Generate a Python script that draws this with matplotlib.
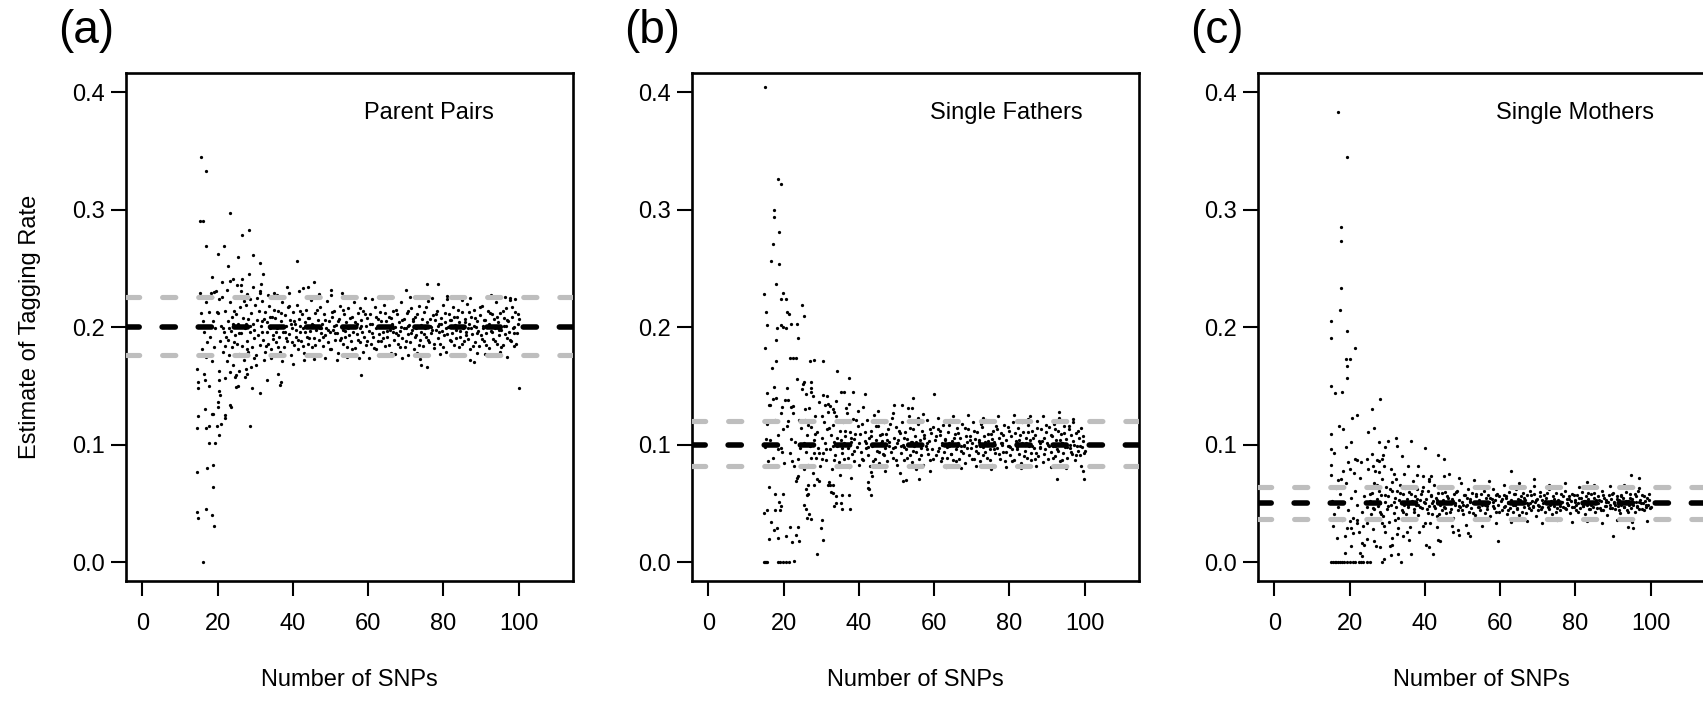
import matplotlib
matplotlib.use("Agg")
import matplotlib.pyplot as plt

plt.rcParams['font.family'] = ['Liberation Sans', 'DejaVu Sans']
plt.rcParams['lines.scale_dashes'] = False

# ---------------- data (x = number of SNPs, y = estimated tagging rate) ----------------
panel_letters = ["(a)", "(b)", "(c)"]
panel_names = ["Parent Pairs", "Single Fathers", "Single Mothers"]
true_rate = [0.2, 0.1, 0.05]
upper_ci = [0.2255, 0.1199, 0.0642]
lower_ci = [0.1763, 0.0819, 0.0366]
x_ticks = [0, 20, 40, 60, 80, 100]
y_ticks = [0.0, 0.1, 0.2, 0.3, 0.4]
y_tick_labels = ["0.0", "0.1", "0.2", "0.3", "0.4"]

a_outliers = [(15.5,.345),(16.8,.333),(15.3,.290),(16.0,.290),(23.4,.297),(16.9,.269),(21.6,.269),(20.1,.262),
    (26.4,.278),(28.3,.283),(25.4,.260),(29.4,.261),(31.3,.255),(41.2,.256),(22.7,.252),(18.5,.243),(23.2,.239),
    (26.3,.236),(28.3,.245),(32.1,.245),(31.6,.237),(19.0,.230),(18.2,.229),(38.4,.234),(42.8,.233),(45.6,.238),
    (50.1,.232),(31.4,.229),(28.5,.116),(14.5,.164),(14.8,.153),(14.9,.148),(16.5,.160),(16.7,.155),(17.8,.150),
    (20.4,.155),(20.5,.146),(20.6,.142),(20.2,.136),(20.0,.132),(18.5,.126),(18.7,.126),(16.6,.130),(14.8,.124),
    (14.6,.114),(16.8,.114),(17.8,.116),(19.8,.116),(20.9,.118),(20.5,.108),(17.8,.101),(19.4,.101),(23.2,.134),
    (23.5,.132),(21.9,.125),(22.1,.123),(25.0,.149),(25.4,.150),(24.8,.159),(27.5,.164),(27.9,.160),(29.2,.148),
    (31.2,.144),(33.2,.155),(36.0,.160),(36.6,.151),(14.6,.077),(17.3,.080),(18.8,.083),(18.9,.064),(14.6,.043),
    (14.8,.038),(17.0,.045),(18.5,.040),(19.0,.031),(16.0,.000),(100.0,.148),(58.2,.159),(36.8,.153),(75.5,.237),
    (78.5,.237),(70.0,.2315),(81.0,.2264),(96.4,.226),(97.8,.225),(92.5,.227),(74.0,.168),(75.5,.166),(88.2,.170),
    (70.7,.176),(60.2,.174),(73.8,.173),(87.0,.172)]
a_band_early = [(15.3,.229),(15.6,.212),(16.1,.205),(16.4,.196),(16.9,.221),(17.3,.187),(17.6,.213),(18.0,.192),
    (18.4,.226),(18.8,.205),(19.1,.183),(19.4,.199),(19.7,.231),(15.9,.181),(17.0,.175),(18.6,.171),(19.9,.213),
    (20.2,.212),(20.6,.188),(20.9,.201),(21.3,.226),(21.5,.179),(21.8,.196),(22.1,.214),(22.4,.171),(22.7,.205),
    (22.9,.189),(23.2,.221),(23.5,.197),(23.7,.183),(23.9,.209),(24.2,.168),(24.4,.214),(24.7,.193),(24.9,.226),
    (25.2,.186),(25.4,.203),(25.6,.177),(25.9,.217),(26.1,.195),(26.3,.231),(26.6,.184),(26.8,.208),(27.0,.172),
    (27.3,.199),(27.5,.219),(27.8,.188),(28.0,.207),(28.2,.179),(28.5,.224),(28.7,.196),(29.0,.212),(29.2,.183),
    (29.5,.203),(29.7,.191),(30.0,.219),(30.2,.176),(30.5,.206),(30.7,.193),(31.0,.214),(31.2,.185),(31.5,.201),
    (31.7,.222),(32.0,.189),(32.2,.207),(32.5,.179),(32.7,.213),(33.0,.196),(33.2,.204),(33.5,.186),(33.7,.218),
    (34.0,.199),(34.2,.181),(34.5,.209),(34.7,.193),(35.0,.215),(20.4,.163),(21.1,.238),(22.0,.157),(22.6,.232),
    (23.4,.162),(24.0,.241),(24.6,.158),(25.1,.236),(25.8,.163),(26.5,.241),(27.2,.158),(27.9,.228),(28.9,.166),
    (29.4,.234),(30.3,.168),(31.4,.231),(32.3,.172),(33.4,.227),(34.3,.174),(34.9,.229),(21.9,.184),(23.0,.199),
    (24.1,.203),(26.0,.201),(27.6,.203),(29.8,.198),(31.9,.205),(33.9,.201),
    (20.5,.224),(21.4,.199),(22.3,.192),(23.1,.176),(24.3,.187),(25.0,.211),(25.7,.195),(26.9,.222),(27.7,.181),
    (28.6,.201),(29.6,.174),(30.6,.225),(31.8,.196),(32.9,.184),(33.8,.209),(34.6,.190)]
a_band_mid = [(35.2,.208),(35.5,.187),(35.8,.199),(36.1,.214),(36.3,.192),(36.6,.179),(36.9,.205),(37.1,.221),
    (37.4,.196),(37.7,.183),(37.9,.210),(38.2,.201),(38.5,.188),(38.7,.217),(39.0,.194),(39.3,.206),(39.5,.176),
    (39.8,.199),(40.1,.213),(40.3,.185),(40.6,.203),(40.9,.192),(41.1,.219),(41.4,.181),(41.7,.207),(41.9,.196),
    (42.2,.188),(42.5,.211),(42.7,.199),(43.0,.178),(43.3,.204),(43.5,.215),(43.8,.192),(44.1,.186),(44.3,.208),
    (44.6,.197),(44.9,.223),(45.1,.183),(45.4,.202),(45.7,.191),(45.9,.212),(46.2,.198),(46.5,.176),(46.7,.206),
    (47.0,.189),(47.3,.217),(47.5,.195),(47.8,.203),(48.1,.184),(48.3,.211),(48.6,.193),(48.9,.199),(49.1,.222),
    (49.4,.187),(49.7,.205),(49.9,.196),(50.2,.181),(50.5,.209),(50.7,.198),(51.0,.214),(51.3,.189),(51.5,.202),
    (51.8,.195),(52.1,.178),(52.3,.207),(52.6,.218),(52.9,.191),(53.1,.200),(53.4,.186),(53.7,.211),(53.9,.197),
    (54.2,.204),(54.5,.183),(54.7,.216),(55.0,.193),(55.3,.201),(55.5,.188),(55.8,.209),(56.1,.196),(56.3,.221),
    (56.6,.182),(56.9,.203),(57.1,.194),(57.4,.212),(57.7,.187),(57.9,.199),(58.2,.206),(58.5,.179),(58.7,.214),
    (59.0,.192),(59.3,.201),(59.5,.185),(59.8,.208),(35.9,.227),(37.2,.171),(38.9,.229),(40.0,.169),(41.5,.231),
    (42.9,.172),(44.0,.234),(45.5,.173),(46.9,.228),(48.4,.174),(50.0,.227),(51.6,.172),(53.0,.229),(54.4,.175),
    (56.0,.226),(57.5,.174),(59.1,.225),(36.4,.201),(38.0,.196),(39.6,.203),(42.0,.201),(44.7,.200),(47.6,.199),
    (50.9,.201),(53.3,.198),(55.9,.200),(58.0,.201),
    (35.4,.196),(36.0,.183),(36.8,.212),(37.5,.201),(38.3,.191),(39.1,.218),(39.9,.187),(40.4,.205),(40.8,.198),
    (41.3,.189),(42.0,.214),(42.6,.184),(43.2,.196),(43.9,.208),(44.4,.191),(45.0,.203),(45.8,.185),(46.4,.215),
    (47.1,.199),(47.9,.192),(48.5,.206),(49.2,.198),(49.8,.181),(50.4,.213),(51.1,.195),(51.9,.205),(52.5,.189),
    (53.2,.215),(53.8,.192),(54.6,.199),(55.2,.208),(55.7,.181),(56.4,.204),(57.2,.189),(57.8,.216),(58.4,.196),
    (59.2,.211),(59.7,.188)]
a_band_late = [(60.2,.197),(60.5,.211),(60.8,.186),(61.1,.203),(61.4,.192),(61.7,.217),(62.0,.199),(62.2,.181),
    (62.5,.207),(62.8,.194),(63.1,.213),(63.4,.188),(63.7,.201),(64.0,.196),(64.2,.219),(64.5,.184),(64.8,.205),
    (65.1,.192),(65.4,.209),(65.7,.198),(66.0,.178),(66.2,.203),(66.5,.214),(66.8,.189),(67.1,.200),(67.4,.195),
    (67.7,.211),(68.0,.186),(68.2,.204),(68.5,.197),(68.8,.221),(69.1,.191),(69.4,.207),(69.7,.183),(70.0,.199),
    (70.2,.212),(70.5,.194),(70.8,.202),(71.1,.187),(71.4,.216),(71.7,.198),(72.0,.205),(72.2,.181),(72.5,.209),
    (72.8,.193),(73.1,.201),(73.4,.218),(73.7,.189),(74.0,.196),(74.2,.207),(74.5,.184),(74.8,.213),(75.1,.199),
    (75.4,.192),(75.7,.204),(76.0,.222),(76.2,.187),(76.5,.201),(76.8,.195),(77.1,.210),(77.4,.182),(77.7,.206),
    (78.0,.198),(78.2,.214),(78.5,.191),(78.8,.203),(79.1,.186),(79.4,.208),(79.7,.197),(80.0,.219),(80.2,.193),
    (80.5,.204),(80.8,.179),(81.1,.200),(81.4,.211),(81.7,.189),(82.0,.206),(82.2,.195),(82.5,.217),(82.8,.185),
    (83.1,.202),(83.4,.198),(83.7,.209),(84.0,.183),(84.2,.204),(84.5,.192),(84.8,.213),(85.1,.199),(85.4,.188),
    (85.7,.207),(86.0,.196),(86.2,.220),(86.5,.190),(86.8,.203),(87.1,.181),(87.4,.209),(87.7,.194),(88.0,.201),
    (88.2,.215),(88.5,.187),(88.8,.205),(89.1,.197),(89.4,.184),(89.7,.210),(90.0,.193),(90.2,.218),(90.5,.199),
    (90.8,.188),(91.1,.206),(91.4,.195),(91.7,.214),(92.0,.182),(92.2,.203),(92.5,.197),(92.8,.211),(93.1,.190),
    (93.4,.207),(93.7,.199),(94.0,.221),(94.2,.186),(94.5,.204),(94.8,.193),(95.1,.212),(95.4,.198),(95.7,.185),
    (96.0,.208),(96.2,.201),(96.5,.216),(96.8,.191),(97.1,.205),(97.4,.196),(97.7,.223),(98.0,.188),(98.2,.209),
    (98.5,.199),(98.8,.184),(99.1,.213),(99.4,.195),(99.7,.203),(100.0,.207),(61.0,.224),(63.0,.176),(65.0,.225),
    (67.0,.177),(69.0,.174),(71.0,.226),(73.0,.178),(75.0,.176),(77.0,.225),(79.0,.177),(81.0,.224),(83.0,.176),
    (85.0,.223),(87.0,.225),(89.0,.178),(91.0,.177),(93.0,.226),(95.0,.179),(97.0,.175),(99.0,.224),(62.6,.200),
    (64.6,.201),(66.6,.199),(68.6,.200),(70.6,.201),(72.6,.199),(74.6,.200),(76.6,.200),(78.6,.201),(80.6,.199),
    (82.6,.200),(84.6,.201),(86.6,.199),(88.6,.200),(90.6,.201),(92.6,.200),(94.6,.199),(96.6,.201),(98.6,.200),
    (60.4,.203),(60.9,.195),(61.5,.182),(62.1,.209),(62.7,.188),(63.3,.205),(63.9,.191),(64.4,.212),(65.0,.197),
    (65.6,.185),(66.1,.208),(66.7,.196),(67.3,.215),(67.9,.193),(68.4,.183),(69.0,.206),(69.6,.199),(70.1,.188),
    (70.7,.214),(71.3,.195),(71.9,.207),(72.4,.192),(73.0,.211),(73.6,.185),(74.1,.202),(74.7,.194),(75.3,.217),
    (75.9,.189),(76.4,.207),(77.0,.198),(77.6,.186),(78.1,.211),(78.7,.196),(79.3,.203),(79.9,.183),(80.4,.212),
    (81.0,.194),(81.6,.206),(82.1,.188),(82.7,.209),(83.3,.191),(83.9,.215),(84.4,.197),(85.0,.186),(85.6,.204),
    (86.1,.193),(86.7,.213),(87.3,.199),(87.9,.184),(88.4,.208),(89.0,.195),(89.6,.217),(90.1,.190),(90.7,.206),
    (91.3,.185),(91.9,.201),(92.4,.212),(93.0,.196),(93.6,.188),(94.1,.209),(94.7,.198),(95.3,.183),(95.9,.214),
    (96.4,.194),(97.0,.206),(97.6,.189),(98.1,.217),(98.7,.195),(99.3,.186),(99.8,.211)]

b_outliers = [(15.0,.404),(18.6,.326),(19.3,.322),(17.4,.300),(17.4,.2935),(18.9,.281),(17.2,.271),(16.6,.256),
    (18.9,.254),(17.9,.237),(14.8,.228),(19.8,.229),(19.4,.224),(20.7,.224),(15.4,.213),(21.0,.213),(21.4,.211),
    (24.9,.2185),(25.4,.2095),(15.7,.202),(19.4,.202),(19.8,.200),(18.3,.199),(20.7,.199),(22.0,.203),(23.5,.203),
    (23.9,.191),(17.9,.189),(15.0,.182),(21.7,.174),(22.5,.174),(23.2,.174),(27.1,.171),(28.0,.172),(30.6,.171),
    (17.9,.171),(16.9,.165),(34.3,.163),(37.3,.157),(17.4,.149),(15.7,.144),(16.2,.134),(16.5,.134),(17.2,.139),
    (20.3,.138),(21.2,.138),(19.6,.132),(22.0,.132),(22.5,.133),(25.1,.152),(25.4,.153),(24.9,.147),(27.2,.153),
    (27.3,.148),(27.2,.145),(26.0,.143),(30.6,.142),(31.5,.141),(35.2,.145),(36.0,.145),(38.4,.145),(41.5,.143),
    (31.9,.135),(32.2,.133),(33.5,.128),(33.2,.130),(37.5,.135),(49.4,.134),(51.4,.134),(54.0,.131),(21.2,.120),
    (19.4,.127),(25.8,.130),(24.2,.121),(15.4,.105),(15.0,.098),(19.8,.113),(22.0,.105),(18.5,.096),(19.6,.094),
    (22.3,.086),(16.1,.064),(17.6,.058),(19.8,.058),(18.9,.051),(23.3,.069),(23.6,.072),(23.9,.073),(26.4,.066),
    (28.2,.066),(26.6,.058),(26.1,.057),(29.4,.069),(31.8,.066),(32.3,.066),(33.0,.066),(32.7,.060),(34.0,.056),
    (35.5,.057),(37.5,.057),(42.4,.068),(42.6,.062),(43.6,.0735),(14.9,.042),(15.6,.044),(16.7,.034),(17.7,.044),
    (19.2,.048),(19.0,.044),(16.0,.020),(17.4,.027),(18.2,.029),(18.4,.021),(20.6,.022),(21.7,.030),(22.3,.017),
    (23.2,.023),(23.8,.030),(24.0,.018),(14.8,0.0),(15.0,0.0),(15.3,0.0),(15.6,0.0),(18.4,0.0),(19.1,0.0),
    (19.9,0.0),(20.6,0.0),(21.5,0.0),(22.7,.001),(29.0,.007),(30.5,.019),(30.0,.029),(30.3,.036),(26.2,.038),
    (26.8,.041),(27.2,.037),(25.5,.049),(25.9,.045),(33.2,.0585),(33.4,.048),(34.0,.050),(35.2,.050),(35.4,.045),
    (37.7,.045),(42.5,.063),(43.3,.057),(60.0,.143),(54.5,.140),(85.4,.124),(93.1,.128),(92.6,.071),(99.8,.071),
    (99.5,.078),(51.8,.069),(52.5,.070),(56.1,.0705)]
b_band_early = [(15.5,.118),(16.4,.104),(17.1,.089),(17.8,.121),(18.6,.108),(19.3,.097),(20.1,.084),(20.8,.116),
    (21.6,.093),(22.4,.127),(23.1,.102),(23.8,.088),(24.6,.114),(25.3,.079),(15.9,.086),(18.1,.140),(21.0,.148),
    (23.5,.156),(24.3,.097),(22.8,.082),(25.6,.121),(25.9,.094),(26.2,.108),(26.5,.083),(26.8,.131),(27.1,.099),
    (27.4,.115),(27.7,.076),(28.0,.104),(28.3,.124),(28.6,.089),(28.9,.111),(29.2,.097),(29.5,.136),(29.8,.082),
    (30.1,.106),(30.4,.093),(30.7,.119),(31.0,.101),(31.3,.087),(31.6,.113),(31.9,.128),(32.2,.096),(32.5,.108),
    (32.8,.079),(33.1,.117),(33.4,.102),(33.7,.091),(34.0,.124),(34.3,.099),(34.6,.085),(34.9,.112),(35.2,.104),
    (35.5,.093),(35.8,.119),(36.1,.088),(36.4,.107),(36.7,.131),(37.0,.097),(37.3,.081),(37.6,.111),(37.9,.102),
    (38.2,.092),(38.5,.122),(38.8,.086),(39.1,.109),(39.4,.098),(39.7,.116),(40.0,.083),(26.0,.062),(27.9,.141),
    (29.0,.071),(30.9,.134),(32.0,.068),(33.9,.137),(35.0,.074),(36.9,.127),(38.0,.072),(39.9,.129),(28.1,.093),
    (30.3,.088),(33.0,.099),(36.0,.101),(38.7,.105),
    (25.5,.101),(26.4,.117),(27.3,.089),(28.4,.109),(29.3,.093),(30.2,.124),(31.2,.096),(32.1,.114),(33.3,.087),
    (34.2,.106),(35.4,.097),(36.3,.112),(37.1,.089),(37.8,.106),(38.6,.095),(39.3,.121)]
b_band_mid = [(40.3,.109),(40.6,.094),(40.9,.118),(41.2,.087),(41.5,.103),(41.8,.097),(42.1,.121),(42.4,.091),
    (42.7,.106),(43.0,.082),(43.3,.112),(43.6,.099),(43.9,.125),(44.2,.088),(44.5,.104),(44.8,.095),(45.1,.116),
    (45.4,.084),(45.7,.108),(46.0,.101),(46.3,.092),(46.6,.119),(46.9,.097),(47.2,.109),(47.5,.086),(47.8,.113),
    (48.1,.102),(48.4,.094),(48.7,.123),(49.0,.089),(49.3,.106),(49.6,.098),(49.9,.115),(50.2,.083),(50.5,.104),
    (50.8,.110),(51.1,.093),(51.4,.119),(51.7,.100),(52.0,.087),(52.3,.111),(52.6,.096),(52.9,.105),(53.2,.124),
    (53.5,.091),(53.8,.102),(54.1,.085),(54.4,.113),(54.7,.099),(55.0,.107),(55.3,.094),(55.6,.118),(55.9,.088),
    (56.2,.104),(56.5,.097),(56.8,.112),(57.1,.083),(57.4,.106),(57.7,.099),(58.0,.121),(58.3,.092),(58.6,.103),
    (58.9,.087),(59.2,.110),(59.5,.096),(59.8,.115),(41.0,.132),(43.1,.077),(45.0,.129),(47.0,.078),(49.1,.127),
    (51.0,.076),(53.0,.131),(55.1,.079),(57.0,.126),(59.0,.078),(42.0,.101),(44.0,.100),(46.1,.103),(48.0,.099),
    (50.0,.101),(52.1,.098),(54.0,.102),(56.0,.100),(58.1,.101),
    (40.1,.101),(40.8,.088),(41.6,.111),(42.3,.098),(43.1,.107),(43.8,.086),(44.6,.116),(45.3,.094),(46.1,.109),
    (46.8,.091),(47.6,.104),(48.3,.118),(49.1,.097),(49.8,.087),(50.6,.112),(51.3,.099),(52.1,.106),(52.8,.089),
    (53.6,.114),(54.3,.095),(55.1,.102),(55.8,.123),(56.6,.091),(57.3,.108),(58.1,.096),(58.8,.113),(59.6,.088)]
b_band_late = [(60.3,.104),(60.6,.091),(60.9,.113),(61.2,.097),(61.5,.108),(61.8,.086),(62.1,.101),(62.4,.117),
    (62.7,.094),(63.0,.105),(63.3,.089),(63.6,.111),(63.9,.099),(64.2,.121),(64.5,.092),(64.8,.103),(65.1,.087),
    (65.4,.109),(65.7,.096),(66.0,.114),(66.3,.101),(66.6,.088),(66.9,.106),(67.2,.095),(67.5,.118),(67.8,.099),
    (68.1,.084),(68.4,.107),(68.7,.102),(69.0,.113),(69.3,.091),(69.6,.104),(69.9,.097),(70.2,.119),(70.5,.088),
    (70.8,.105),(71.1,.099),(71.4,.111),(71.7,.093),(72.0,.102),(72.3,.086),(72.6,.115),(72.9,.098),(73.2,.107),
    (73.5,.094),(73.8,.121),(74.1,.089),(74.4,.103),(74.7,.096),(75.0,.109),(75.3,.083),(75.6,.112),(75.9,.100),
    (76.2,.093),(76.5,.116),(76.8,.097),(77.1,.106),(77.4,.088),(77.7,.110),(78.0,.101),(78.3,.094),(78.6,.117),
    (78.9,.086),(79.2,.104),(79.5,.099),(79.8,.112),(80.1,.091),(80.4,.107),(80.7,.096),(81.0,.119),(81.3,.087),
    (81.6,.103),(81.9,.098),(82.2,.114),(82.5,.092),(82.8,.108),(83.1,.084),(83.4,.101),(83.7,.111),(84.0,.095),
    (84.3,.106),(84.6,.089),(84.9,.117),(85.2,.099),(85.5,.104),(85.8,.087),(86.1,.112),(86.4,.097),(86.7,.108),
    (87.0,.093),(87.3,.120),(87.6,.090),(87.9,.103),(88.2,.098),(88.5,.113),(88.8,.085),(89.1,.106),(89.4,.096),
    (89.7,.111),(90.0,.101),(90.3,.088),(90.6,.115),(90.9,.094),(91.2,.107),(91.5,.099),(91.8,.118),(92.1,.090),
    (92.4,.104),(92.7,.096),(93.0,.112),(93.3,.086),(93.6,.109),(93.9,.101),(94.2,.093),(94.5,.116),(94.8,.098),
    (95.1,.105),(95.4,.089),(95.7,.113),(96.0,.097),(96.3,.108),(96.6,.092),(96.9,.119),(97.2,.100),(97.5,.087),
    (97.8,.110),(98.1,.095),(98.4,.106),(98.7,.091),(99.0,.114),(99.3,.098),(99.6,.103),(99.9,.093),(61.0,.123),
    (63.1,.081),(65.0,.124),(67.0,.080),(69.1,.125),(71.0,.082),(73.0,.123),(75.1,.079),(77.0,.124),(79.0,.081),
    (81.1,.125),(83.0,.080),(85.0,.122),(87.1,.082),(89.0,.124),(91.0,.081),(93.1,.123),(95.0,.080),(97.0,.122),
    (99.1,.082),(62.0,.100),(64.0,.101),(66.1,.099),(68.0,.100),(70.0,.101),(72.1,.099),(74.0,.100),(76.0,.102),
    (78.1,.100),(80.0,.099),(82.0,.101),(84.1,.100),(86.0,.099),(88.0,.101),(90.1,.100),(92.0,.099),(94.0,.101),
    (96.1,.100),(98.0,.099),
    (60.4,.107),(61.0,.095),(61.6,.112),(62.2,.089),(62.8,.104),(63.4,.098),(64.0,.117),(64.6,.092),(65.2,.106),
    (65.8,.086),(66.4,.110),(67.0,.099),(67.6,.093),(68.2,.114),(68.8,.097),(69.4,.107),(70.0,.088),(70.6,.112),
    (71.2,.095),(71.8,.104),(72.4,.118),(73.0,.091),(73.6,.102),(74.2,.109),(74.8,.087),(75.4,.105),(76.0,.096),
    (76.6,.113),(77.2,.092),(77.8,.101),(78.4,.108),(79.0,.094),(79.6,.115),(80.2,.098),(80.8,.086),(81.4,.110),
    (82.0,.096),(82.6,.104),(83.2,.119),(83.8,.090),(84.4,.101),(85.0,.111),(85.6,.093),(86.2,.106),(86.8,.088),
    (87.4,.114),(88.0,.097),(88.6,.103),(89.2,.092),(89.8,.117),(90.4,.099),(91.0,.108),(91.6,.089),(92.2,.113),
    (92.8,.095),(93.4,.104),(94.0,.087),(94.6,.110),(95.2,.098),(95.8,.116),(96.4,.094),(97.0,.103),(97.6,.091),
    (98.2,.112),(98.8,.099),(99.4,.107),(100.0,.095)]

c_outliers = [(16.9,.383),(19.3,.345),(17.7,.285),(17.7,.2735),(17.7,.233),(17.4,.215),(15.1,.205),(15.0,.1905),
    (19.4,.197),(21.4,.182),(19.0,.173),(20.2,.173),(19.4,.167),(19.3,.157),(15.0,.150),(16.0,.144),(18.1,.145),
    (28.0,.139),(25.9,.130),(24.8,.111),(26.4,.114),(20.6,.123),(22.0,.125),(15.1,.109),(17.3,.116),(18.2,.113),
    (15.1,.096),(15.8,.093),(17.0,.070),(15.1,.083),(15.2,.074),(18.2,.078),(20.3,.102),(19.0,.098),(19.6,.085),
    (20.2,.079),(21.4,.088),(21.9,.087),(24.7,.088),(23.1,.085),(26.0,.092),(27.9,.102),(29.3,.098),(30.2,.103),
    (32.4,.106),(32.5,.099),(33.9,.090),(36.3,.103),(40.0,.097),(45.0,.088),(27.3,.087),(27.7,.086),(26.2,.082),
    (26.8,.078),(29.0,.091),(28.5,.088),(29.1,.082),(31.8,.075),(32.3,.071),(35.5,.082),(38.1,.082),(39.4,.073),
    (41.6,.073),(46.5,.075),(15.0,0.0),(15.5,0.0),(16.0,0.0),(16.5,0.0),(17.0,0.0),(17.5,0.0),(18.0,0.0),
    (18.6,0.0),(19.2,0.0),(20.0,0.0),(21.0,0.0),(21.5,0.0),(22.5,0.0),(23.0,0.0),(23.5,0.0),(24.5,0.0),(25.5,0.0),
    (28.6,0.0),(33.6,0.0),(31.1,.006),(18.7,.008),(20.5,.014),(22.8,.008),(23.4,.005),(23.3,.016),(23.7,.015),
    (20.5,.029),(21.0,.025),(20.1,.035),(21.9,.033),(22.1,.036),(24.5,.033),(24.5,.020),(26.4,.018),(27.0,.014),
    (28.6,.033),(29.2,.031),(28.1,.013),(30.8,.014),(31.2,.015),(31.4,.021),(32.5,.024),(32.9,.007),(29.2,.003),
    (36.4,.007),(40.4,.015),(41.2,.013),(42.2,.007),(43.5,.019),(44.1,.018),(34.3,.022),(35.2,.026),(35.8,.019),
    (38.4,.026),(40.0,.033),(41.4,.033),(47.5,.026),(48.8,.027),(49.1,.023),(51.5,.025),(52.0,.022),(59.4,.018),
    (90.0,.022),(94.0,.030),(95.3,.029),(62.8,.078),(94.7,.074),(43.5,.091),(41.0,.0695)]
c_band_early = [(15.3,.052),(15.8,.041),(16.3,.063),(16.8,.047),(17.4,.058),(17.9,.036),(18.5,.051),(19.1,.067),
    (19.7,.044),(20.3,.055),(20.9,.038),(21.5,.061),(22.1,.049),(22.7,.072),(23.3,.043),(23.9,.056),(24.5,.047),
    (25.1,.064),(15.5,.031),(17.6,.071),(19.4,.029),(21.2,.076),(23.6,.031),(24.8,.079),(16.6,.021),(18.9,.022),
    (22.4,.026),(25.4,.052),(25.7,.041),(26.0,.059),(26.3,.046),(26.6,.067),(26.9,.037),(27.2,.054),(27.5,.048),
    (27.8,.061),(28.1,.043),(28.4,.057),(28.7,.071),(29.0,.039),(29.3,.051),(29.6,.064),(29.9,.045),(30.2,.056),
    (30.5,.034),(30.8,.062),(31.1,.049),(31.4,.068),(31.7,.042),(32.0,.055),(32.3,.047),(32.6,.061),(32.9,.038),
    (33.2,.053),(33.5,.066),(33.8,.044),(34.1,.058),(34.4,.049),(34.7,.063),(35.0,.041),(35.3,.054),(35.6,.047),
    (35.9,.060),(36.2,.037),(36.5,.052),(36.8,.069),(37.1,.045),(37.4,.056),(37.7,.049),(38.0,.062),(38.3,.040),
    (38.6,.053),(38.9,.058),(39.2,.046),(39.5,.064),(39.8,.051),(26.1,.028),(27.7,.077),(29.4,.026),(31.0,.079),
    (32.8,.029),(34.5,.075),(36.0,.030),(37.9,.074),(39.6,.031),(28.0,.050),(31.9,.051),(35.5,.050),(38.1,.049),
    (25.5,.058),(26.4,.045),(27.3,.066),(28.4,.041),(29.3,.057),(30.2,.048),(31.2,.061),(32.1,.036),(33.3,.059),
    (34.2,.043),(35.4,.049),(36.3,.058),(37.1,.043),(37.8,.054),(38.6,.047),(39.3,.061)]
c_band_mid = [(40.3,.054),(40.6,.045),(40.9,.061),(41.2,.048),(41.5,.057),(41.8,.041),(42.1,.052),(42.4,.066),
    (42.7,.046),(43.0,.055),(43.3,.039),(43.6,.059),(43.9,.050),(44.2,.063),(44.5,.044),(44.8,.053),(45.1,.047),
    (45.4,.060),(45.7,.042),(46.0,.056),(46.3,.051),(46.6,.064),(46.9,.045),(47.2,.054),(47.5,.038),(47.8,.058),
    (48.1,.049),(48.4,.061),(48.7,.044),(49.0,.053),(49.3,.047),(49.6,.067),(49.9,.051),(50.2,.041),(50.5,.057),
    (50.8,.048),(51.1,.055),(51.4,.062),(51.7,.043),(52.0,.052),(52.3,.046),(52.6,.059),(52.9,.050),(53.2,.040),
    (53.5,.056),(53.8,.064),(54.1,.047),(54.4,.053),(54.7,.044),(55.0,.058),(55.3,.049),(55.6,.061),(55.9,.042),
    (56.2,.055),(56.5,.048),(56.8,.057),(57.1,.051),(57.4,.039),(57.7,.054),(58.0,.062),(58.3,.046),(58.6,.053),
    (58.9,.043),(59.2,.058),(59.5,.049),(59.8,.056),(41.0,.071),(43.1,.030),(45.0,.073),(47.1,.031),(49.0,.072),
    (51.0,.032),(53.0,.070),(55.1,.031),(57.0,.069),(59.0,.033),(42.0,.050),(44.0,.049),(46.1,.051),(48.0,.050),
    (50.0,.049),(52.1,.051),(54.0,.050),(56.0,.049),(58.1,.051),
    (40.1,.050),(40.8,.042),(41.6,.056),(42.3,.048),(43.1,.053),(43.8,.041),(44.6,.059),(45.3,.046),(46.1,.055),
    (46.8,.043),(47.6,.052),(48.3,.060),(49.1,.048),(49.8,.044),(50.6,.057),(51.3,.049),(52.1,.054),(52.8,.042),
    (53.6,.058),(54.3,.047),(55.1,.051),(55.8,.063),(56.6,.045),(57.3,.055),(58.1,.048),(58.8,.057),(59.6,.043)]
c_band_late = [(60.3,.052),(60.6,.044),(60.9,.057),(61.2,.048),(61.5,.055),(61.8,.041),(62.1,.051),(62.4,.060),
    (62.7,.046),(63.0,.053),(63.3,.043),(63.6,.058),(63.9,.049),(64.2,.062),(64.5,.045),(64.8,.054),(65.1,.040),
    (65.4,.056),(65.7,.050),(66.0,.059),(66.3,.047),(66.6,.053),(66.9,.042),(67.2,.057),(67.5,.049),(67.8,.061),
    (68.1,.044),(68.4,.052),(68.7,.047),(69.0,.058),(69.3,.051),(69.6,.039),(69.9,.054),(70.2,.048),(70.5,.060),
    (70.8,.045),(71.1,.053),(71.4,.050),(71.7,.057),(72.0,.043),(72.3,.055),(72.6,.047),(72.9,.062),(73.2,.049),
    (73.5,.052),(73.8,.041),(74.1,.056),(74.4,.048),(74.7,.059),(75.0,.046),(75.3,.053),(75.6,.050),(75.9,.044),
    (76.2,.058),(76.5,.051),(76.8,.047),(77.1,.061),(77.4,.045),(77.7,.054),(78.0,.049),(78.3,.056),(78.6,.042),
    (78.9,.052),(79.2,.058),(79.5,.047),(79.8,.053),(80.1,.044),(80.4,.057),(80.7,.050),(81.0,.055),(81.3,.046),
    (81.6,.060),(81.9,.048),(82.2,.052),(82.5,.041),(82.8,.056),(83.1,.049),(83.4,.054),(83.7,.045),(84.0,.058),
    (84.3,.051),(84.6,.047),(84.9,.059),(85.2,.043),(85.5,.053),(85.8,.050),(86.1,.056),(86.4,.046),(86.7,.052),
    (87.0,.061),(87.3,.044),(87.6,.055),(87.9,.048),(88.2,.053),(88.5,.040),(88.8,.057),(89.1,.049),(89.4,.054),
    (89.7,.046),(90.0,.059),(90.3,.051),(90.6,.045),(90.9,.056),(91.2,.048),(91.5,.053),(91.8,.042),(92.1,.057),
    (92.4,.050),(92.7,.055),(93.0,.047),(93.3,.060),(93.6,.044),(93.9,.052),(94.2,.049),(94.5,.058),(94.8,.046),
    (95.1,.054),(95.4,.051),(95.7,.043),(96.0,.056),(96.3,.048),(96.6,.061),(96.9,.045),(97.2,.053),(97.5,.050),
    (97.8,.057),(98.1,.044),(98.4,.052),(98.7,.047),(99.0,.055),(99.3,.049),(99.6,.058),(99.9,.046),(61.0,.066),
    (63.0,.034),(65.1,.067),(67.0,.035),(69.0,.065),(71.1,.033),(73.0,.066),(75.0,.036),(77.1,.067),(79.0,.034),
    (81.0,.064),(83.1,.035),(85.0,.066),(87.0,.033),(89.1,.065),(91.0,.036),(93.0,.066),(95.1,.034),(97.0,.063),
    (99.0,.035),(62.0,.050),(64.0,.049),(66.1,.051),(68.0,.050),(70.0,.049),(72.1,.050),(74.0,.051),(76.0,.050),
    (78.1,.049),(80.0,.051),(82.0,.050),(84.1,.049),(86.0,.050),(88.0,.051),(90.1,.050),(92.0,.049),(94.0,.050),
    (96.1,.051),(98.0,.050),(96.8,.072),(83.0,.068),(69.0,.071),
    (60.4,.054),(61.0,.047),(61.6,.056),(62.2,.044),(62.8,.052),(63.4,.049),(64.0,.058),(64.6,.046),(65.2,.053),
    (65.8,.043),(66.4,.055),(67.0,.050),(67.6,.046),(68.2,.057),(68.8,.048),(69.4,.053),(70.0,.044),(70.6,.056),
    (71.2,.047),(71.8,.052),(72.4,.059),(73.0,.045),(73.6,.051),(74.2,.054),(74.8,.043),(75.4,.052),(76.0,.048),
    (76.6,.056),(77.2,.046),(77.8,.050),(78.4,.054),(79.0,.047),(79.6,.057),(80.2,.049),(80.8,.043),(81.4,.055),
    (82.0,.048),(82.6,.052),(83.2,.059),(83.8,.045),(84.4,.050),(85.0,.055),(85.6,.046),(86.2,.053),(86.8,.044),
    (87.4,.057),(88.0,.048),(88.6,.051),(89.2,.046),(89.8,.058),(90.4,.049),(91.0,.054),(91.6,.044),(92.2,.056),
    (92.8,.047),(93.4,.052),(94.0,.043),(94.6,.055),(95.2,.049),(95.8,.058),(96.4,.047),(97.0,.051),(97.6,.045),
    (98.2,.056),(98.8,.049),(99.4,.053),(100.0,.047)]

panel_points = [
    a_outliers + a_band_early + a_band_mid + a_band_late,
    b_outliers + b_band_early + b_band_mid + b_band_late,
    c_outliers + c_band_early + c_band_mid + c_band_late,
]

# ---------------- layout (pixels of the 1703x702 figure) ----------------
W, H = 1703, 702
box_lefts = [125.7, 691.7, 1257.7]
box_w = 447.3
box_top, box_bot = 73.3, 581.0

fig = plt.figure(figsize=(W / 100, H / 100), dpi=100)

for i in range(3):
    left = box_lefts[i]
    ax = fig.add_axes([left / W, 1 - box_bot / H, box_w / W, (box_bot - box_top) / H])
    xs = [p[0] for p in panel_points[i]]
    ys = [p[1] for p in panel_points[i]]
    ax.scatter(xs, ys, s=5.5, c='black', linewidths=0, zorder=2)
    for yy, col, lw in [(upper_ci[i], '#bebebe', 3.7), (lower_ci[i], '#bebebe', 3.7),
                        (true_rate[i], 'black', 4.0)]:
        ax.axhline(yy, color=col, lw=lw, linestyle=(0, (9.5, 16.5)),
                   dash_capstyle='round', zorder=3)
    ax.set_xlim(-4.4, 114.4)
    ax.set_ylim(-0.016, 0.416)
    ax.set_xticks(x_ticks)
    ax.set_xticklabels([str(t) for t in x_ticks])
    ax.set_yticks(y_ticks)
    ax.set_yticklabels(y_tick_labels)
    ax.tick_params(length=10.8, width=1.5, labelsize=17, color='black')
    ax.tick_params(axis='x', pad=12)
    ax.tick_params(axis='y', pad=4.5)
    for sp in ax.spines.values():
        sp.set_linewidth(1.9)
    ax.text(58.8, 0.382, panel_names[i], fontsize=17, ha='left', va='center')
    fig.text((left - 68) / W, 1 - 31 / H, panel_letters[i], fontsize=33, ha='left', va='center')
    fig.text((left + box_w / 2) / W, 1 - 680 / H, 'Number of SNPs', fontsize=17,
             ha='center', va='center')

fig.text(30 / W, 1 - 327 / H, 'Estimate of Tagging Rate', rotation=90, fontsize=17,
         ha='center', va='center')

fig.savefig('out.png', dpi=100)
